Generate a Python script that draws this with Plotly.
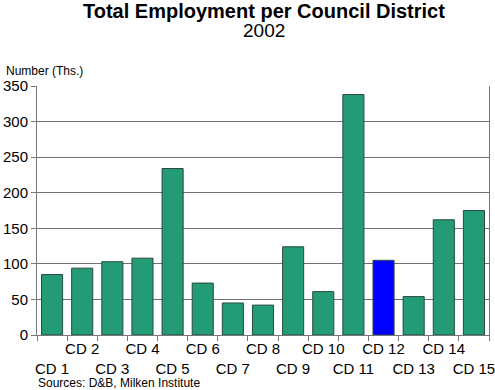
import plotly.graph_objects as go

districts = ["CD 1", "CD 2", "CD 3", "CD 4", "CD 5", "CD 6", "CD 7", "CD 8",
             "CD 9", "CD 10", "CD 11", "CD 12", "CD 13", "CD 14", "CD 15"]
employment = [85, 94, 103, 108, 234, 73, 45, 42, 124, 61, 338, 105, 54, 162, 175]
highlight = "CD 12"
y_ticks = [0, 50, 100, 150, 200, 250, 300, 350]

colors = ["#0000ff" if d == highlight else "#239b77" for d in districts]
tick_text = [("<br>" + d) if i % 2 == 0 else d for i, d in enumerate(districts)]

fig = go.Figure(go.Bar(
    x=districts, y=employment,
    marker=dict(color=colors, line=dict(color="#2b4a3f", width=1)),
))

W, H = 495, 390
ML, MR, MT, MB = 37, 6, 86, 55
plot_h = H - MT - MB
plot_w = W - ML - MR


def py(px_from_top):
    return 1 + (MT - px_from_top) / plot_h


def px(px_from_left):
    return (px_from_left - ML) / plot_w


font = "Liberation Sans, Arial, sans-serif"
fig.update_layout(
    width=W, height=H,
    margin=dict(l=ML, r=MR, t=MT, b=MB, autoexpand=False),
    paper_bgcolor="white", plot_bgcolor="white",
    bargap=0.3,
    showlegend=False,
    font=dict(family=font, size=15, color="black"),
    xaxis=dict(
        tickmode="array", tickvals=districts, ticktext=tick_text,
        tickson="boundaries", ticks="outside", ticklen=5, tickcolor="#777",
        showline=True, linecolor="#777", linewidth=1,
        showgrid=False, tickangle=0, automargin=False,
        tickfont=dict(family=font, size=15),
    ),
    yaxis=dict(
        range=[0, 350], tickvals=y_ticks,
        ticks="outside", ticklen=5, tickcolor="#777",
        showline=True, linecolor="#777", linewidth=1, mirror=True,
        showgrid=True, gridcolor="#707070", gridwidth=1,
        zeroline=False, automargin=False,
        tickfont=dict(family=font, size=15),
    ),
    annotations=[
        dict(text="<b>Total Employment per Council District</b>", xref="paper", yref="paper",
             x=px(264), xanchor="center", y=py(11), yanchor="middle", showarrow=False,
             font=dict(family=font, size=20)),
        dict(text="2002", xref="paper", yref="paper",
             x=px(264), xanchor="center", y=py(30), yanchor="middle", showarrow=False,
             font=dict(family=font, size=19)),
        dict(text="Number (Ths.)", xref="paper", yref="paper", x=px(4),
             y=py(62), xanchor="left", yanchor="top", showarrow=False,
             font=dict(family=font, size=12)),
        dict(text="Sources: D&B, Milken Institute", xref="paper", yref="paper",
             x=px(36), y=py(374), xanchor="left", yanchor="top",
             showarrow=False, font=dict(family=font, size=12)),
    ],
)

fig.write_html("out.html", config={"displayModeBar": False},
               post_script="document.body.style.margin='0px';")
